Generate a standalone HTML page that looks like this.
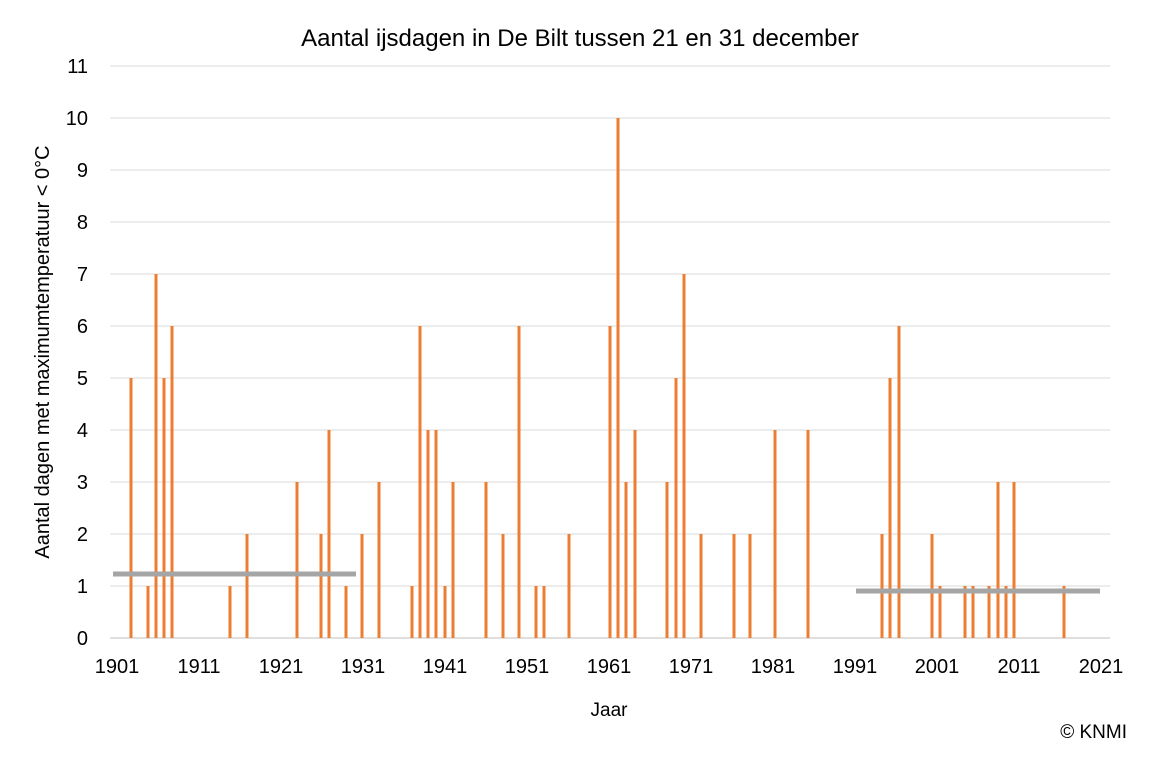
<!DOCTYPE html>
<html><head><meta charset="utf-8"><style>
body{margin:0;background:#fff;}
text{font-family:"Liberation Sans",sans-serif;fill:#000;}
</style></head><body>
<svg width="1160" height="760" xmlns="http://www.w3.org/2000/svg">
<text x="580" y="46" font-size="24" text-anchor="middle">Aantal ijsdagen in De Bilt tussen 21 en 31 december</text>
<g stroke="#d9d9d9" stroke-width="1">
<line x1="110" x2="1110" y1="66" y2="66"/><line x1="110" x2="1110" y1="118" y2="118"/>
<line x1="110" x2="1110" y1="170" y2="170"/><line x1="110" x2="1110" y1="222" y2="222"/>
<line x1="110" x2="1110" y1="274" y2="274"/><line x1="110" x2="1110" y1="326" y2="326"/>
<line x1="110" x2="1110" y1="378" y2="378"/><line x1="110" x2="1110" y1="430" y2="430"/>
<line x1="110" x2="1110" y1="482" y2="482"/><line x1="110" x2="1110" y1="534" y2="534"/>
<line x1="110" x2="1110" y1="586" y2="586"/>
</g>
<line x1="110" x2="1110" y1="638" y2="638" stroke="#bfbfbf" stroke-width="1"/>
<g font-size="20" text-anchor="end">
<text x="88" y="73">11</text><text x="88" y="125">10</text><text x="88" y="177">9</text>
<text x="88" y="229">8</text><text x="88" y="281">7</text><text x="88" y="333">6</text>
<text x="88" y="385">5</text><text x="88" y="437">4</text><text x="88" y="489">3</text>
<text x="88" y="541">2</text><text x="88" y="593">1</text><text x="88" y="645">0</text>
</g>
<g font-size="20" text-anchor="middle">
<text x="117" y="673">1901</text><text x="199" y="673">1911</text><text x="281" y="673">1921</text>
<text x="363" y="673">1931</text><text x="445" y="673">1941</text><text x="527" y="673">1951</text>
<text x="609" y="673">1961</text><text x="691" y="673">1971</text><text x="773" y="673">1981</text>
<text x="855" y="673">1991</text><text x="937" y="673">2001</text><text x="1019" y="673">2011</text>
<text x="1101" y="673">2021</text>
</g>
<text x="609" y="716" font-size="19" text-anchor="middle">Jaar</text>
<text x="1127" y="738" font-size="19" text-anchor="end">© KNMI</text>
<text transform="translate(49,352) rotate(-90)" font-size="20" text-anchor="middle">Aantal dagen met maximumtemperatuur &lt; 0°C</text>
<g fill="#ed7d31">
<rect x="129.5" y="378" width="3" height="260"/>
<rect x="146.5" y="586" width="3" height="52"/>
<rect x="154.5" y="274" width="3" height="364"/>
<rect x="162.5" y="378" width="3" height="260"/>
<rect x="170.5" y="326" width="3" height="312"/>
<rect x="228.5" y="586" width="3" height="52"/>
<rect x="245.5" y="534" width="3" height="104"/>
<rect x="295.5" y="482" width="3" height="156"/>
<rect x="319.5" y="534" width="3" height="104"/>
<rect x="327.5" y="430" width="3" height="208"/>
<rect x="344.5" y="586" width="3" height="52"/>
<rect x="360.5" y="534" width="3" height="104"/>
<rect x="377.5" y="482" width="3" height="156"/>
<rect x="410.5" y="586" width="3" height="52"/>
<rect x="418.5" y="326" width="3" height="312"/>
<rect x="426.5" y="430" width="3" height="208"/>
<rect x="434.5" y="430" width="3" height="208"/>
<rect x="443.5" y="586" width="3" height="52"/>
<rect x="451.5" y="482" width="3" height="156"/>
<rect x="484.5" y="482" width="3" height="156"/>
<rect x="501.5" y="534" width="3" height="104"/>
<rect x="517.5" y="326" width="3" height="312"/>
<rect x="534.5" y="586" width="3" height="52"/>
<rect x="542.5" y="586" width="3" height="52"/>
<rect x="567.5" y="534" width="3" height="104"/>
<rect x="608.5" y="326" width="3" height="312"/>
<rect x="616.5" y="118" width="3" height="520"/>
<rect x="624.5" y="482" width="3" height="156"/>
<rect x="633.5" y="430" width="3" height="208"/>
<rect x="665.5" y="482" width="3" height="156"/>
<rect x="674.5" y="378" width="3" height="260"/>
<rect x="682.5" y="274" width="3" height="364"/>
<rect x="699.5" y="534" width="3" height="104"/>
<rect x="732.5" y="534" width="3" height="104"/>
<rect x="748.5" y="534" width="3" height="104"/>
<rect x="773.5" y="430" width="3" height="208"/>
<rect x="806.5" y="430" width="3" height="208"/>
<rect x="880.5" y="534" width="3" height="104"/>
<rect x="888.5" y="378" width="3" height="260"/>
<rect x="897.5" y="326" width="3" height="312"/>
<rect x="930.5" y="534" width="3" height="104"/>
<rect x="938.5" y="586" width="3" height="52"/>
<rect x="963.5" y="586" width="3" height="52"/>
<rect x="971.5" y="586" width="3" height="52"/>
<rect x="987.5" y="586" width="3" height="52"/>
<rect x="996.5" y="482" width="3" height="156"/>
<rect x="1004.5" y="586" width="3" height="52"/>
<rect x="1012.5" y="482" width="3" height="156"/>
<rect x="1062.5" y="586" width="3" height="52"/>
</g>
<line x1="113" x2="356" y1="574" y2="574" stroke="#a5a5a5" stroke-width="5"/>
<line x1="856" x2="1100" y1="591" y2="591" stroke="#a5a5a5" stroke-width="5"/>
</svg>
</body></html>
